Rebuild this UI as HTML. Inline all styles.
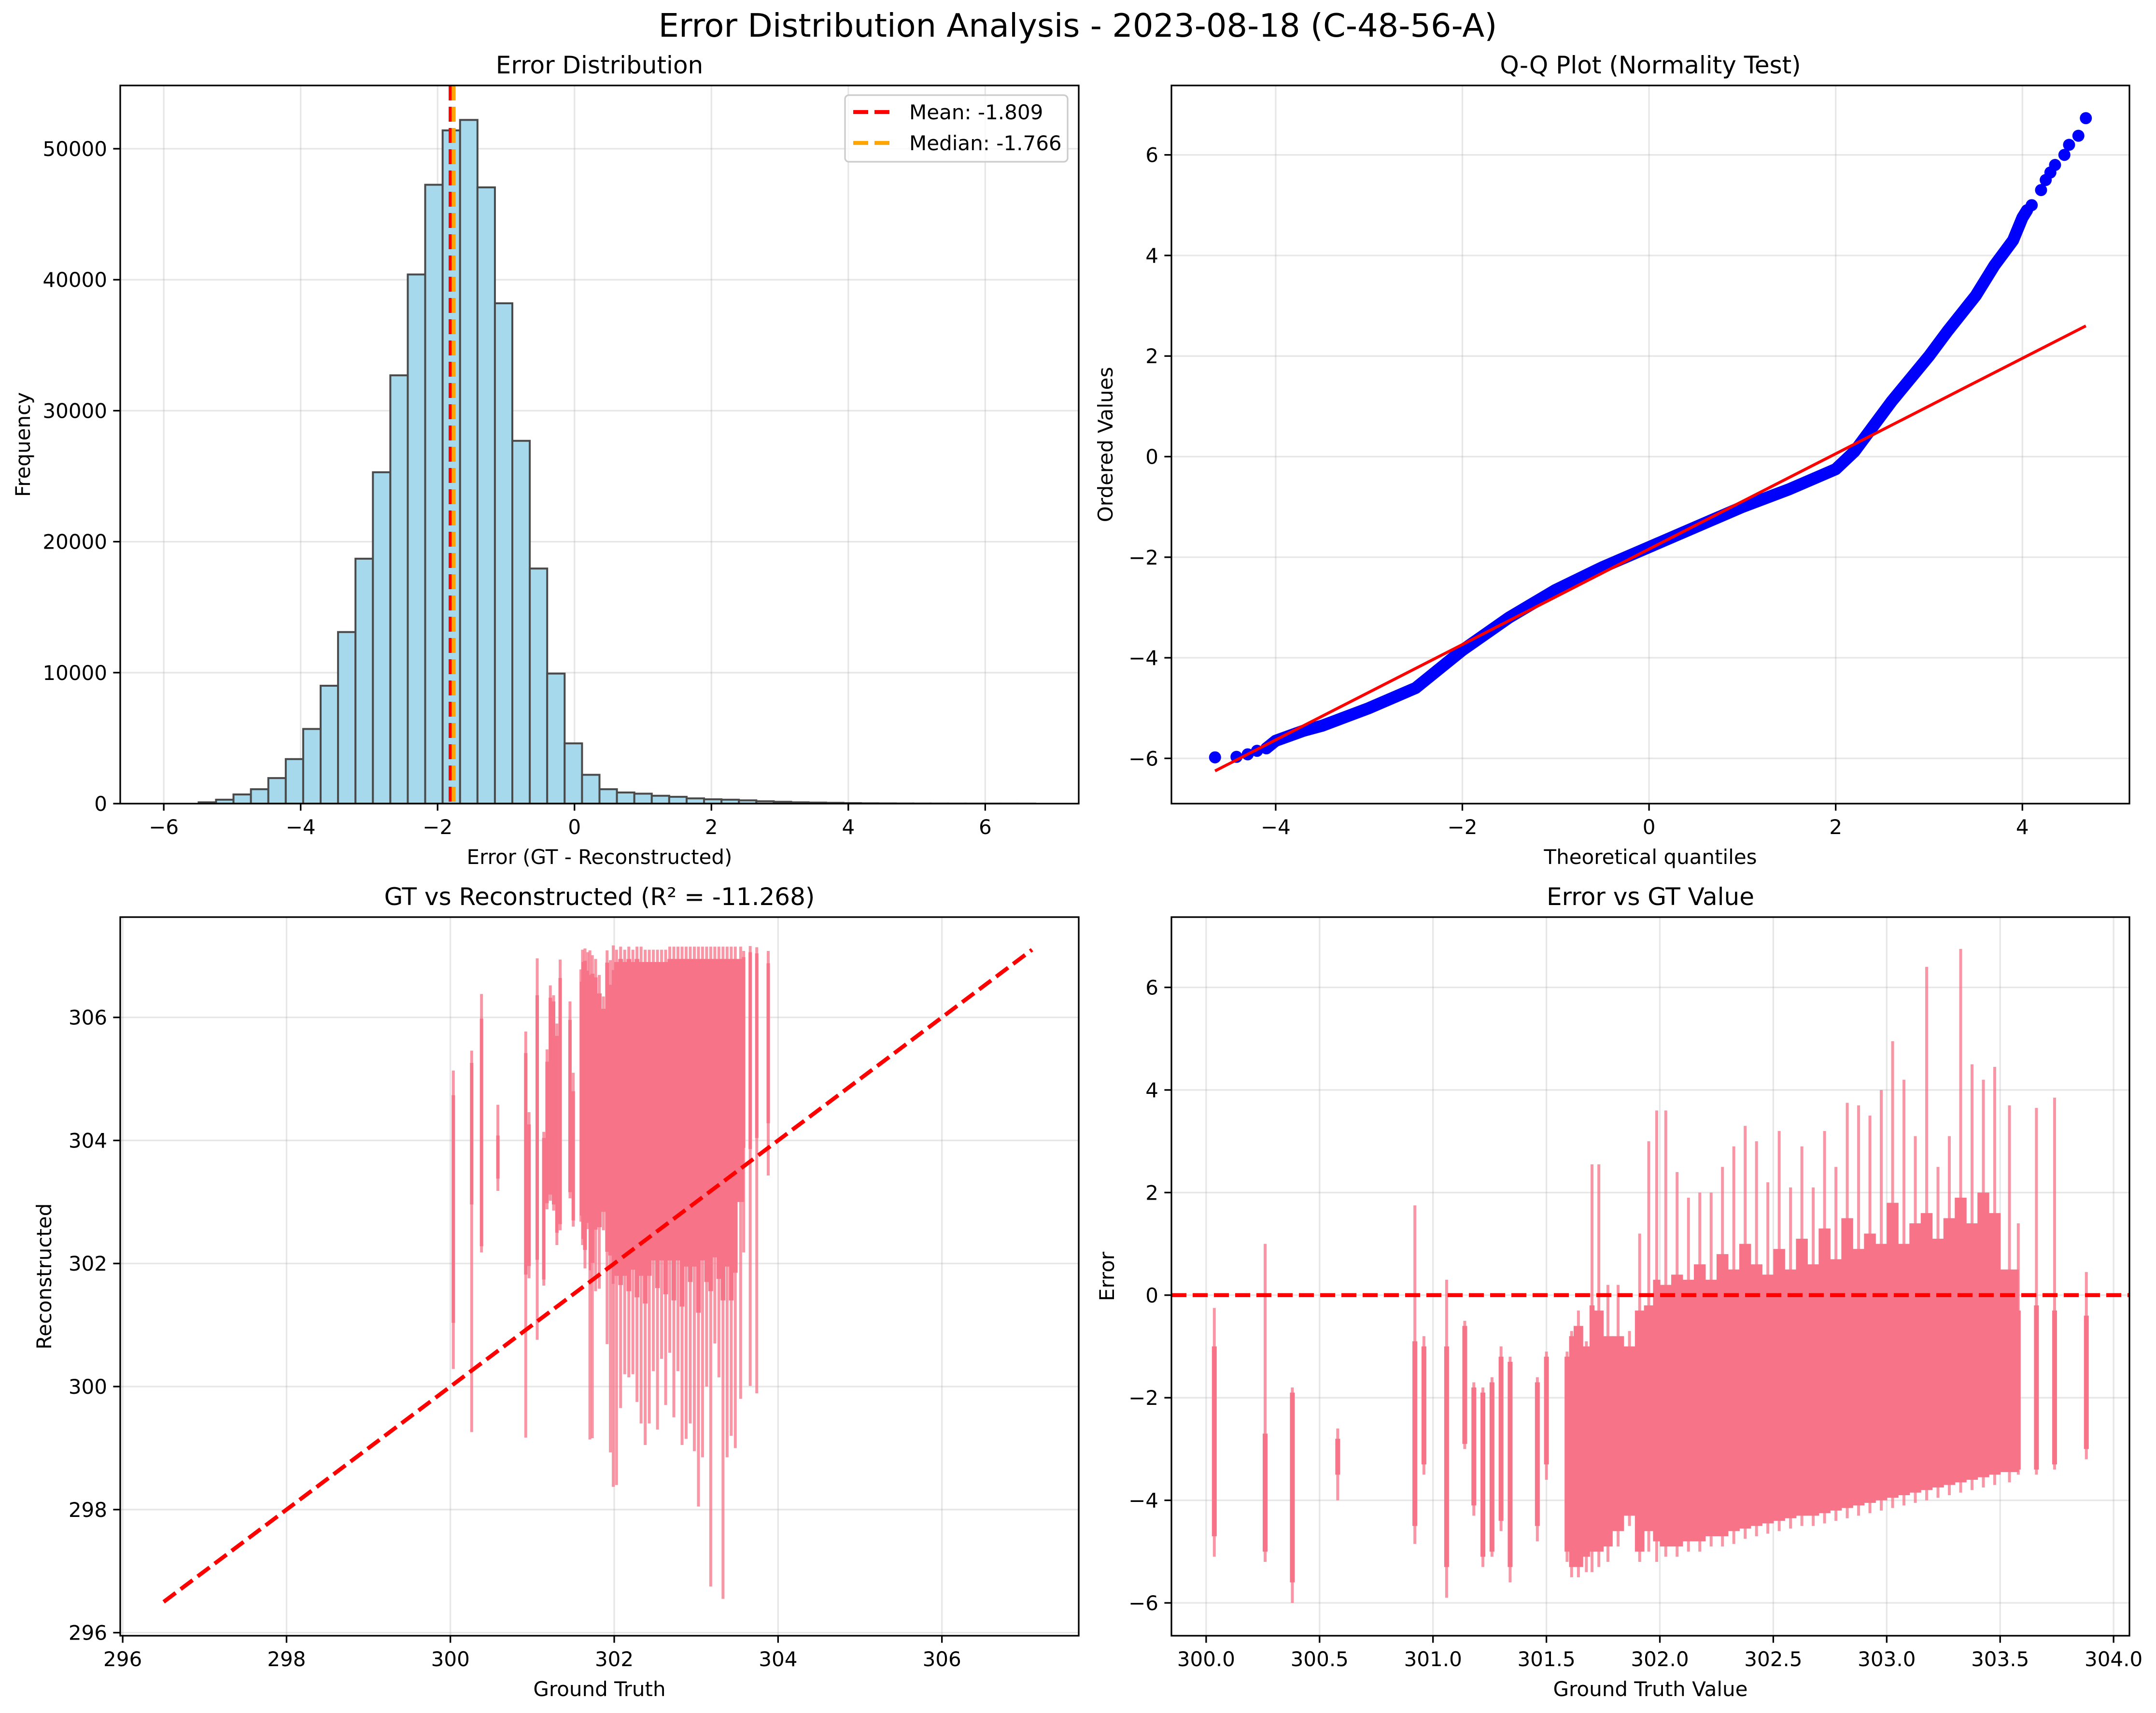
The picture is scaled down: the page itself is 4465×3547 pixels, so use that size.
<!DOCTYPE html>
<html><head><meta charset="utf-8"><title>Error Distribution Analysis</title>
<style>
html,body{margin:0;padding:0;background:#fff;}
svg{display:block;font-family:"DejaVu Sans","Liberation Sans",sans-serif;}
</style></head>
<body>
<svg id="fig" width="4465" height="3547" viewBox="0 0 4465 3547" xmlns="http://www.w3.org/2000/svg">
<rect x="0" y="0" width="4465" height="3547" fill="#fff"/>
<text x="2232" y="76" font-size="67" text-anchor="middle">Error Distribution Analysis - 2023-08-18 (C-48-56-A)</text>
</svg>
<script>
// ---------- Histogram data ----------
const histMin = -6.0;
const histMax = 6.73;
const histCounts = [0,0,100,300,700,1100,1950,3400,5700,9000,13100,18700,25300,32700,40400,47250,51400,52200,47050,38200,27700,17950,9930,4600,2200,1100,850,760,600,520,400,330,300,250,180,140,100,80,60,40,25,18,12,8,6,4,3,2,2,1];
const meanVal = -1.809;
const medianVal = -1.766;
const histXTicks = [-6,-4,-2,0,2,4,6];
const histYTicks = [0,10000,20000,30000,40000,50000];

// ---------- Q-Q data ----------
const qqTheo = [-4.1,-4.0,-3.7,-3.5,-3.0,-2.5,-2.0,-1.5,-1.0,-0.5,0,0.5,1.0,1.5,2.0,2.2,2.4,2.6,3.0,3.2,3.5,3.7,3.9,4.0,4.05];
const qqOrd  = [-5.8,-5.65,-5.45,-5.35,-5.0,-4.6,-3.85,-3.2,-2.65,-2.2,-1.8,-1.4,-1.0,-0.65,-0.25,0.1,0.6,1.1,2.0,2.5,3.2,3.8,4.3,4.75,4.9];
const qqTailTheo = [-4.65,-4.42,-4.3,-4.2,-4.1,4.1,4.2,4.25,4.3,4.35,4.45,4.5,4.6,4.68];
const qqTailOrd  = [-5.98,-5.97,-5.92,-5.85,-5.8,5.0,5.3,5.5,5.65,5.8,6.0,6.2,6.38,6.73];
const qqFitX = [-4.65,4.68];
const qqFitY = [-6.25,2.6];
const qqXTicks = [-4,-2,0,2,4];
const qqYTicks = [-6,-4,-2,0,2,4,6];

// ---------- Scatter column data (GT value, error range) ----------
const colGT = [300.036,300.26,300.38,300.58,300.92,300.96,301.06,301.14,301.18,301.22,301.26,301.30,301.34,301.46,301.50,301.58,301.60,301.62,301.66,301.69,301.71,301.75,301.79,301.84,301.89,301.93,301.97,
302.0,302.05,302.1,302.15,302.2,302.25,302.3,302.35,302.4,302.45,302.5,302.55,302.6,302.65,302.7,302.75,302.8,302.85,302.9,302.95,303.0,303.05,303.1,303.15,303.2,303.25,303.3,303.35,303.4,303.45,303.5,
303.58,303.66,303.74,303.88];
const colErrMin = [-5.1,-5.2,-6.0,-4.0,-4.85,-3.5,-5.9,-3.0,-4.3,-5.3,-5.1,-4.6,-5.6,-4.8,-3.6,-5.2,-5.5,-5.5,-5.4,-5.4,-5.3,-5.2,-4.9,-4.5,-5.2,-5.0,-5.2,
-5.1,-5.1,-5.0,-5.0,-4.9,-4.9,-4.85,-4.75,-4.7,-4.65,-4.6,-4.55,-4.5,-4.5,-4.45,-4.4,-4.35,-4.3,-4.25,-4.2,-4.15,-4.1,-4.05,-4.0,-3.95,-3.9,-3.85,-3.8,-3.75,-3.7,-3.65,
-3.5,-3.5,-3.4,-3.2];
const colErrMax = [-0.25,1.0,-1.8,-2.6,1.75,-0.8,0.3,-0.5,-1.7,-1.8,-1.6,-1.0,-1.2,-1.6,-1.1,-1.1,-0.7,-0.3,-0.9,2.55,2.55,0.2,0.2,-0.7,1.2,3.0,3.6,
3.6,2.4,1.9,2.0,2.0,2.5,2.9,3.3,3.0,2.2,3.2,2.1,2.9,2.1,3.2,2.5,3.75,3.7,3.5,4.0,4.95,4.2,3.1,6.4,2.5,3.1,6.75,4.5,4.2,4.45,3.7,
1.4,3.65,3.85,0.45];
const colDenseMin = [-4.7,-5.0,-5.6,-3.5,-4.5,-3.3,-5.3,-2.9,-4.1,-5.1,-5.0,-4.4,-5.3,-4.5,-3.3,-5.0,-5.3,-5.3,-5.1,-5.0,-5.0,-4.9,-4.6,-4.3,-5.0,-4.6,-4.8,
-4.9,-4.9,-4.8,-4.8,-4.7,-4.7,-4.6,-4.55,-4.5,-4.45,-4.4,-4.35,-4.3,-4.3,-4.25,-4.2,-4.15,-4.1,-4.05,-4.0,-3.95,-3.9,-3.85,-3.8,-3.75,-3.7,-3.65,-3.6,-3.55,-3.5,-3.45,
-3.4,-3.4,-3.3,-3.0];
const colDenseMax = [-1.0,-2.7,-1.9,-2.8,-0.9,-1.0,-1.0,-0.6,-1.8,-1.9,-1.7,-1.2,-1.3,-1.7,-1.2,-1.2,-0.8,-0.6,-1.0,-0.2,-0.3,-0.8,-0.8,-1.0,-0.3,-0.2,0.3,
0.2,0.4,0.3,0.6,0.3,0.8,0.5,1.0,0.6,0.4,0.9,0.5,1.1,0.6,1.3,0.7,1.5,0.9,1.2,1.0,1.8,1.0,1.4,1.6,1.1,1.5,1.9,1.4,2.0,1.6,0.5,
-0.3,-0.2,-0.3,-0.4];
const diagX = [296.5,307.1];
const bl_Ticks = [296,298,300,302,304,306];
const brXTicks = [300.0,300.5,301.0,301.5,302.0,302.5,303.0,303.5,304.0];
const brYTicks = [-6,-4,-2,0,2,4,6];

const NS = "http://www.w3.org/2000/svg";
const svg = document.getElementById('fig');
function mk(tag, attrs, parent) {
  const el = document.createElementNS(NS, tag);
  for (const k in attrs) el.setAttribute(k, attrs[k]);
  (parent || svg).appendChild(el);
  return el;
}
function fmtMinus(s){ return String(s).replace('-', '\u2212'); }

function makeAxes(x0,y0,x1,y1,xmin,xmax,ymin,ymax){
  return {x0,y0,x1,y1,xmin,xmax,ymin,ymax,
    sx:v=>x0+(v-xmin)/(xmax-xmin)*(x1-x0),
    sy:v=>y1-(v-ymin)/(ymax-ymin)*(y1-y0)};
}

function drawFrame(ax, name, xticks, yticks, xfmt, yfmt, title, xlabel, ylabel, ylabX){
  const g = mk('g', {});
  
  
  xticks.forEach(t=>{
    const l = mk('line',{x1:ax.sx(t),x2:ax.sx(t),y1:ax.y0,y2:ax.y1,stroke:'#b0b0b0','stroke-opacity':0.3,'stroke-width':3.3},g);
    
    
  });
  yticks.forEach(t=>{
    const l = mk('line',{x1:ax.x0,x2:ax.x1,y1:ax.sy(t),y2:ax.sy(t),stroke:'#b0b0b0','stroke-opacity':0.3,'stroke-width':3.3},g);
    
    
  });
  xticks.forEach(t=>{
    const x = ax.sx(t);
    const tk = mk('line',{x1:x,x2:x,y1:ax.y1,y2:ax.y1+14.6,stroke:'#000','stroke-width':3.3},g);
    
    
    const tx = mk('text',{x:x,y:ax.y1+63,'font-size':42,'text-anchor':'middle'},g);
    tx.textContent = xfmt(t);
    
    
  });
  yticks.forEach(t=>{
    const y = ax.sy(t);
    const tk = mk('line',{x1:ax.x0-14.6,x2:ax.x0,y1:y,y2:y,stroke:'#000','stroke-width':3.3},g);
    
    
    const tx = mk('text',{x:ax.x0-27,y:y+15,'font-size':42,'text-anchor':'end'},g);
    tx.textContent = yfmt(t);
    
    
  });
  const tt = mk('text',{x:(ax.x0+ax.x1)/2,y:ax.y0-25,'font-size':50,'text-anchor':'middle'});
  tt.textContent = title;
  
  
  const xl = mk('text',{x:(ax.x0+ax.x1)/2,y:ax.y1+125,'font-size':42,'text-anchor':'middle'});
  xl.textContent = xlabel;
  
  
  const cy = (ax.y0+ax.y1)/2;
  const yl = mk('text',{x:ylabX,y:cy,'font-size':42,'text-anchor':'middle',transform:`rotate(-90 ${ylabX} ${cy})`});
  yl.textContent = ylabel;
  
  
  return g;
}
function drawSpine(ax,name){
  const r = mk('rect',{x:ax.x0,y:ax.y0,width:ax.x1-ax.x0,height:ax.y1-ax.y0,fill:'none',stroke:'#000','stroke-width':3.3});
  
  
}
function clip(ax,id){
  const cp = mk('clipPath',{id:id});
  mk('rect',{x:ax.x0,y:ax.y0,width:ax.x1-ax.x0,height:ax.y1-ax.y0},cp);
  return `url(#${id})`;
}
// column width in GT units: solid mass for 301.58..303.5, narrow otherwise
function colSpan(i){
  const gt = colGT[i];
  if (gt >= 301.58 && gt <= 303.5 && i+1 < colGT.length) return colGT[i+1]-gt;
  return 0;
}

// ===== Panel 1: histogram =====
const A1 = makeAxes(249,177,2234,1664,-6.636,7.366,0,54830);
drawFrame(A1,'histogram',histXTicks,histYTicks,t=>fmtMinus(t),t=>String(t),'Error Distribution','Error (GT - Reconstructed)','Frequency',62);
const bw = (histMax-histMin)/histCounts.length;
const gBars = mk('g',{'clip-path':clip(A1,'c1')});
histCounts.forEach((c,i)=>{
  const xa = A1.sx(histMin+i*bw), xb = A1.sx(histMin+(i+1)*bw);
  const r = mk('rect',{x:xa,y:A1.sy(c),width:xb-xa,height:A1.sy(0)-A1.sy(c),fill:'#a6d9ec',stroke:'#4a4a4a','stroke-width':4},gBars);
  
  
});
const mLine = mk('line',{x1:A1.sx(meanVal),x2:A1.sx(meanVal),y1:A1.y0,y2:A1.y1,stroke:'#ff0000','stroke-width':8.3,'stroke-dasharray':'31,13'});


const mdLine = mk('line',{x1:A1.sx(medianVal),x2:A1.sx(medianVal),y1:A1.y0,y2:A1.y1,stroke:'#ffa500','stroke-width':8.3,'stroke-dasharray':'31,13'});


drawSpine(A1,'histogram');
const lg = mk('g',{});


mk('rect',{x:1750,y:197,width:461,height:138,rx:8,fill:'#fff','fill-opacity':0.8,stroke:'#cccccc','stroke-width':3.3},lg);
const le1 = mk('line',{x1:1767,x2:1850,y1:232,y2:232,stroke:'#ff0000','stroke-width':8.3,'stroke-dasharray':'31,13'},lg);


const lt1 = mk('text',{x:1883,y:247,'font-size':42},lg);
lt1.textContent = 'Mean: -1.809';


const le2 = mk('line',{x1:1767,x2:1850,y1:296,y2:296,stroke:'#ffa500','stroke-width':8.3,'stroke-dasharray':'31,13'},lg);


const lt2 = mk('text',{x:1883,y:311,'font-size':42},lg);
lt2.textContent = 'Median: -1.766';



// ===== Panel 2: Q-Q =====
const A2 = makeAxes(2426,177,4410,1664,-5.117,5.147,-6.9,7.38);
drawFrame(A2,'qq',qqXTicks,qqYTicks,t=>fmtMinus(t),t=>fmtMinus(t),'Q-Q Plot (Normality Test)','Theoretical quantiles','Ordered Values',2304);
const gQ = mk('g',{'clip-path':clip(A2,'c2')});
const qpts = qqTheo.map((t,i)=>A2.sx(t)+','+A2.sy(qqOrd[i])).join(' ');
const qline = mk('polyline',{points:qpts,fill:'none',stroke:'#0000ff','stroke-width':25,'stroke-linejoin':'round','stroke-linecap':'round'},gQ);


qqTailTheo.forEach((t,i)=>{
  const c = mk('circle',{cx:A2.sx(t),cy:A2.sy(qqTailOrd[i]),r:12.5,fill:'#0000ff'},gQ);
  
  
});
const fit = mk('line',{x1:A2.sx(qqFitX[0]),y1:A2.sy(qqFitY[0]),x2:A2.sx(qqFitX[1]),y2:A2.sy(qqFitY[1]),stroke:'#ff0000','stroke-width':6},gQ);


drawSpine(A2,'qq');

const PINK = '#f67388';

// ===== Panel 3: GT vs Reconstructed =====
const A3 = makeAxes(249,1899,2234,3387,295.97,307.67,295.95,307.63);
drawFrame(A3,'gt-vs-rec',bl_Ticks,bl_Ticks,t=>String(t),t=>String(t),'GT vs Reconstructed (R\u00b2 = -11.268)','Ground Truth','Reconstructed',106);
const gS3 = mk('g',{'clip-path':clip(A3,'c3')});
colGT.forEach((gt,i)=>{
  const sp = colSpan(i);
  const w = sp > 0 ? (A3.sx(gt+sp)-A3.sx(gt))+1 : 7;
  const x = sp > 0 ? A3.sx(gt) : A3.sx(gt) - w/2;
  const yTop = A3.sy(gt - colErrMin[i]);
  const yBot = A3.sy(gt - colErrMax[i]);
  const s = mk('rect',{x:x+w/2-3,y:yTop,width:6,height:yBot-yTop,fill:PINK,'fill-opacity':0.75},gS3);
  
  
  const dTop = A3.sy(gt - colDenseMin[i]);
  const dBot = A3.sy(gt - colDenseMax[i]);
  const d = mk('rect',{x:x,y:dTop,width:w,height:dBot-dTop,fill:PINK},gS3);
  
  
});
const diag = mk('line',{x1:A3.sx(diagX[0]),y1:A3.sy(diagX[0]),x2:A3.sx(diagX[1]),y2:A3.sy(diagX[1]),stroke:'#ff0000','stroke-width':8.3,'stroke-dasharray':'31,13'},gS3);


drawSpine(A3,'gt-vs-rec');

// ===== Panel 4: Error vs GT =====
const A4 = makeAxes(2426,1899,4410,3387,299.847,304.07,-6.64,7.37);
drawFrame(A4,'err-vs-gt',brXTicks,brYTicks,t=>t.toFixed(1),t=>fmtMinus(t),'Error vs GT Value','Ground Truth Value','Error',2307);
const gS4 = mk('g',{'clip-path':clip(A4,'c4')});
colGT.forEach((gt,i)=>{
  const sp = colSpan(i);
  const w = sp > 0 ? (A4.sx(gt+sp)-A4.sx(gt))+1 : 10;
  const x = sp > 0 ? A4.sx(gt) : A4.sx(gt) - w/2;
  const s = mk('rect',{x:x+w/2-3,y:A4.sy(colErrMax[i]),width:6,height:A4.sy(colErrMin[i])-A4.sy(colErrMax[i]),fill:PINK,'fill-opacity':0.75},gS4);
  
  
  const d = mk('rect',{x:x,y:A4.sy(colDenseMax[i]),width:w,height:A4.sy(colDenseMin[i])-A4.sy(colDenseMax[i]),fill:PINK},gS4);
  
  
});
const zl = mk('line',{x1:A4.x0,x2:A4.x1,y1:A4.sy(0),y2:A4.sy(0),stroke:'#ff0000','stroke-width':8.3,'stroke-dasharray':'31,13'},gS4);


drawSpine(A4,'err-vs-gt');
</script>
</body></html>
